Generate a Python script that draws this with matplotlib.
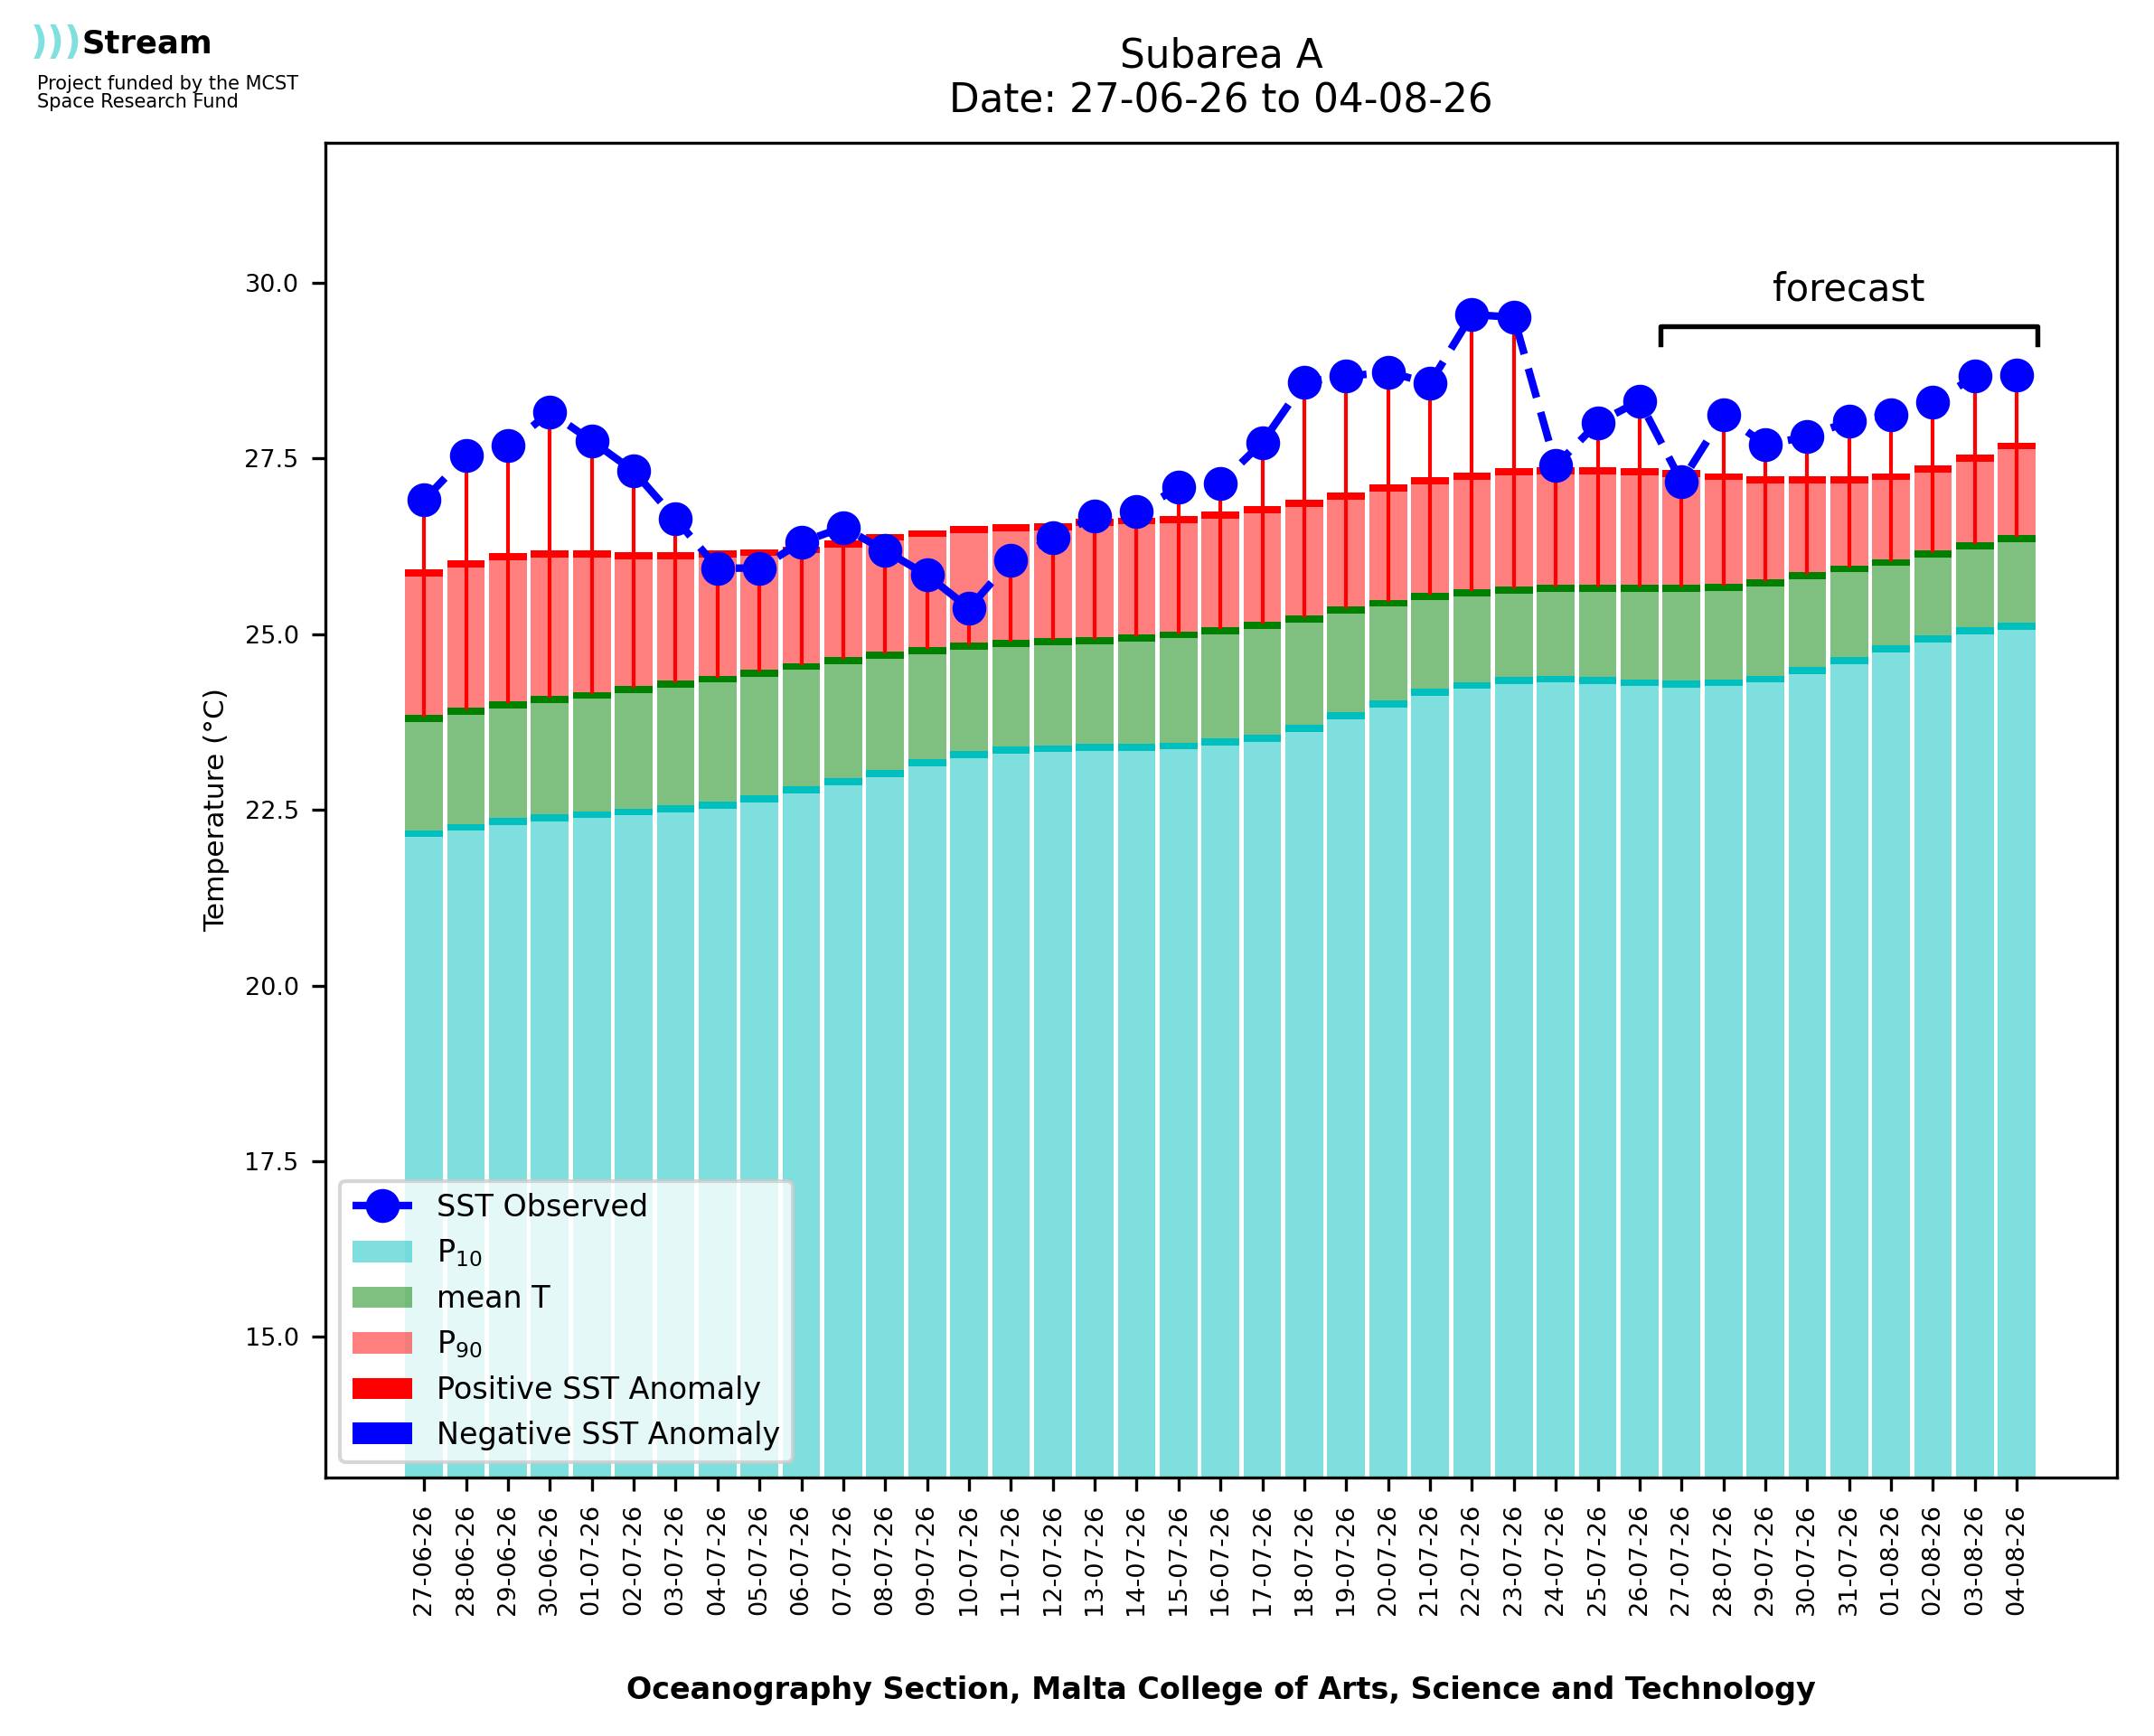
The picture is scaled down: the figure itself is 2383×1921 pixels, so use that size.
import matplotlib.pyplot as plt
from matplotlib.patches import Patch
from matplotlib.lines import Line2D

dates = ["27-06-26", "28-06-26", "29-06-26", "30-06-26", "01-07-26", "02-07-26", "03-07-26",
         "04-07-26", "05-07-26", "06-07-26", "07-07-26", "08-07-26", "09-07-26", "10-07-26",
         "11-07-26", "12-07-26", "13-07-26", "14-07-26", "15-07-26", "16-07-26", "17-07-26",
         "18-07-26", "19-07-26", "20-07-26", "21-07-26", "22-07-26", "23-07-26", "24-07-26",
         "25-07-26", "26-07-26", "27-07-26", "28-07-26", "29-07-26", "30-07-26", "31-07-26",
         "01-08-26", "02-08-26", "03-08-26", "04-08-26"]

p10 = [22.21, 22.30, 22.38, 22.44, 22.48, 22.52, 22.56, 22.62, 22.71, 22.83, 22.95, 23.07, 23.22,
       23.34, 23.40, 23.42, 23.44, 23.44, 23.46, 23.52, 23.57, 23.71, 23.89, 24.06, 24.22, 24.32,
       24.39, 24.41, 24.39, 24.36, 24.34, 24.36, 24.41, 24.53, 24.67, 24.84, 24.98, 25.10, 25.16]
mean_t = [23.85, 23.95, 24.04, 24.12, 24.18, 24.26, 24.34, 24.41, 24.49, 24.59, 24.67, 24.75, 24.82,
          24.88, 24.92, 24.94, 24.96, 25.00, 25.04, 25.10, 25.18, 25.27, 25.39, 25.49, 25.59, 25.64,
          25.68, 25.70, 25.70, 25.70, 25.70, 25.72, 25.78, 25.88, 25.98, 26.07, 26.19, 26.31, 26.41]
p90 = [25.92, 26.05, 26.15, 26.19, 26.19, 26.17, 26.17, 26.19, 26.21, 26.25, 26.33, 26.43, 26.48,
       26.54, 26.56, 26.58, 26.64, 26.66, 26.68, 26.74, 26.82, 26.91, 27.01, 27.13, 27.23, 27.30,
       27.36, 27.38, 27.38, 27.36, 27.34, 27.29, 27.25, 27.25, 27.25, 27.29, 27.40, 27.56, 27.73]
sst_obs = [26.91, 27.54, 27.68, 28.16, 27.75, 27.32, 26.64, 25.94, 25.94, 26.31, 26.52, 26.19, 25.84,
           25.37, 26.05, 26.37, 26.68, 26.74, 27.09, 27.15, 27.73, 28.59, 28.67, 28.73, 28.57, 29.55,
           29.51, 27.40, 28.01, 28.32, 27.17, 28.12, 27.70, 27.81, 28.03, 28.12, 28.30, 28.67, 28.69]
forecast_start = 30

fig = plt.figure(figsize=(2383 / 300, 1921 / 300), dpi=300)
ax = fig.add_axes([0.151, 0.149, 0.832, 0.769])

x = list(range(len(dates)))
w = 0.9
band = 0.1
ybot = 13
ax.bar(x, [v - ybot for v in p10], bottom=ybot, width=w, color='c', alpha=0.5, lw=0)
ax.bar(x, band, bottom=[v - band for v in p10], width=w, color='c', lw=0)
ax.bar(x, [m - p for m, p in zip(mean_t, p10)], bottom=p10, width=w, color='g', alpha=0.5, lw=0)
ax.bar(x, band, bottom=[v - band for v in mean_t], width=w, color='g', lw=0)
ax.bar(x, [a - m for a, m in zip(p90, mean_t)], bottom=mean_t, width=w, color='r', alpha=0.5, lw=0)
ax.bar(x, band, bottom=[v - band for v in p90], width=w, color='r', lw=0)

for i in x:
    c = 'r' if sst_obs[i] >= mean_t[i] else 'b'
    ax.plot([i, i], [mean_t[i], sst_obs[i]], color=c, lw=1)

ax.plot(x, sst_obs, 'o--', color='b', lw=2, markersize=8, dashes=(4, 2))

# forecast bracket
xl, xr, yb = forecast_start - 0.5, len(dates) - 0.5, 29.38
ax.plot([xl, xl, xr, xr], [yb - 0.25, yb, yb, yb - 0.25], color='k', lw=1.3)
ax.text((xl + xr) / 2, yb + 0.25, "forecast", ha='center', va='bottom', fontsize=10)

ax.set_ylim(13, 32)
ax.set_xlim(-2.36, 40.4)
ax.set_yticks([15.0, 17.5, 20.0, 22.5, 25.0, 27.5, 30.0])
ax.tick_params(labelsize=6.5)
ax.set_xticks(x)
ax.set_xticklabels(dates, rotation=90, fontsize=6.5)
ax.set_ylabel("Temperature (°C)", fontsize=7.5)
ax.set_xlabel("Oceanography Section, Malta College of Arts, Science and Technology",
              fontsize=8, fontweight='bold', labelpad=16)
ax.set_title("Subarea A\nDate: 27-06-26 to 04-08-26", fontsize=10.5, pad=8)

handles = [Line2D([], [], color='b', marker='o', ls='--', lw=2, markersize=8),
           Patch(facecolor='c', alpha=0.5, lw=0), Patch(facecolor='g', alpha=0.5, lw=0),
           Patch(facecolor='r', alpha=0.5, lw=0), Patch(facecolor='r', lw=0), Patch(facecolor='b', lw=0)]
labels = ["SST Observed", "P$_{10}$", "mean T", "P$_{90}$", "Positive SST Anomaly", "Negative SST Anomaly"]
ax.legend(handles, labels, loc='lower left', fontsize=8, framealpha=0.8)

# logo
fig.text(0.014, 0.975, ")))", color='#80dfdf', fontsize=10, fontweight='bold', va='center')
fig.text(0.038, 0.975, "Stream", fontsize=8.5, fontweight='bold', va='center')
fig.text(0.017, 0.957, "Project funded by the MCST\nSpace Research Fund", fontsize=5,
         va='top', linespacing=1.0)

plt.savefig("out.png", dpi=300)
